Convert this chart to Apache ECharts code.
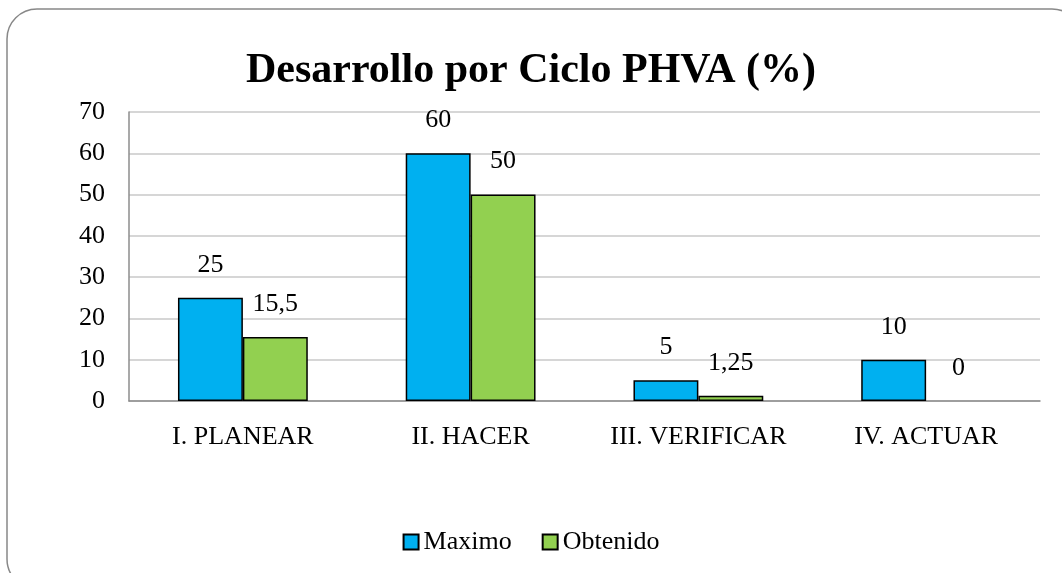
<!DOCTYPE html>
<html>
<head>
<meta charset="utf-8">
<script src="https://cdn.jsdelivr.net/npm/echarts@6/dist/echarts.min.js"></script>
<style>
  html, body { margin: 0; padding: 0; background: #ffffff; }
  #chart { width: 1062px; height: 573px; }
</style>
</head>
<body>
<div id="chart"></div>
<script>
var categories = ["I. PLANEAR", "II. HACER", "III. VERIFICAR", "IV. ACTUAR"];
var maximo = [25, 60, 5, 10];
var obtenido = [15.5, 50, 1.25, 0];
var yTicks = { min: 0, max: 70, interval: 10 };

var serif = "'Liberation Serif', 'Times New Roman', serif";

function comma(v) {
    return String(v).replace(".", ",");
}

// zero-height bars get no outline, like the original
function barData(values) {
    return values.map(function (v) {
        return v === 0 ? { value: v, itemStyle: { borderWidth: 0 } } : v;
    });
}

var chart = echarts.init(document.getElementById("chart"));

var option = {
    backgroundColor: "#ffffff",
    animation: false,
    graphic: [
        {
            type: "rect",
            shape: { x: 7, y: 9, width: 1075, height: 580, r: 30 },
            style: { fill: "none", stroke: "#888888", lineWidth: 1.5 },
            silent: true
        }
    ],
    title: {
        text: "Desarrollo por Ciclo PHVA (%)",
        left: "center",
        top: 45,
        textStyle: {
            fontFamily: serif,
            fontSize: 42,
            fontWeight: "bold",
            color: "#000000"
        }
    },
    legend: {
        bottom: 13,
        left: "center",
        icon: "rect",
        itemWidth: 15,
        itemHeight: 15,
        itemGap: 30,
        textStyle: { fontFamily: serif, fontSize: 26, color: "#000000" },
        data: ["Maximo", "Obtenido"]
    },
    grid: { left: 129, right: 22, top: 112, bottom: 172 },
    xAxis: {
        type: "category",
        data: categories,
        axisTick: { show: false },
        axisLine: { lineStyle: { color: "#8c8c8c", width: 1.5 } },
        axisLabel: { fontFamily: serif, fontSize: 26, color: "#000000", margin: 23, interval: 0 }
    },
    yAxis: {
        type: "value",
        min: yTicks.min,
        max: yTicks.max,
        interval: yTicks.interval,
        axisLine: { show: true, lineStyle: { color: "#8c8c8c", width: 1.5 } },
        axisTick: { show: false },
        splitLine: { lineStyle: { color: "#c8c8c8", width: 1.5 } },
        axisLabel: { fontFamily: serif, fontSize: 26, color: "#000000", margin: 24 }
    },
    series: [
        {
            name: "Maximo",
            type: "bar",
            data: barData(maximo),
            barGap: "0%",
            barCategoryGap: "43%",
            itemStyle: { color: "#00b0f0", borderColor: "#000000", borderWidth: 1.5 },
            label: {
                show: true,
                position: "top",
                distance: 20,
                fontFamily: serif,
                fontSize: 26,
                color: "#000000",
                formatter: function (p) { return comma(p.value); }
            }
        },
        {
            name: "Obtenido",
            type: "bar",
            data: barData(obtenido),
            itemStyle: { color: "#92d050", borderColor: "#000000", borderWidth: 1.5 },
            label: {
                show: true,
                position: "top",
                distance: 20,
                fontFamily: serif,
                fontSize: 26,
                color: "#000000",
                formatter: function (p) { return comma(p.value); }
            }
        }
    ]
};

chart.setOption(option);
</script>
</body>
</html>
